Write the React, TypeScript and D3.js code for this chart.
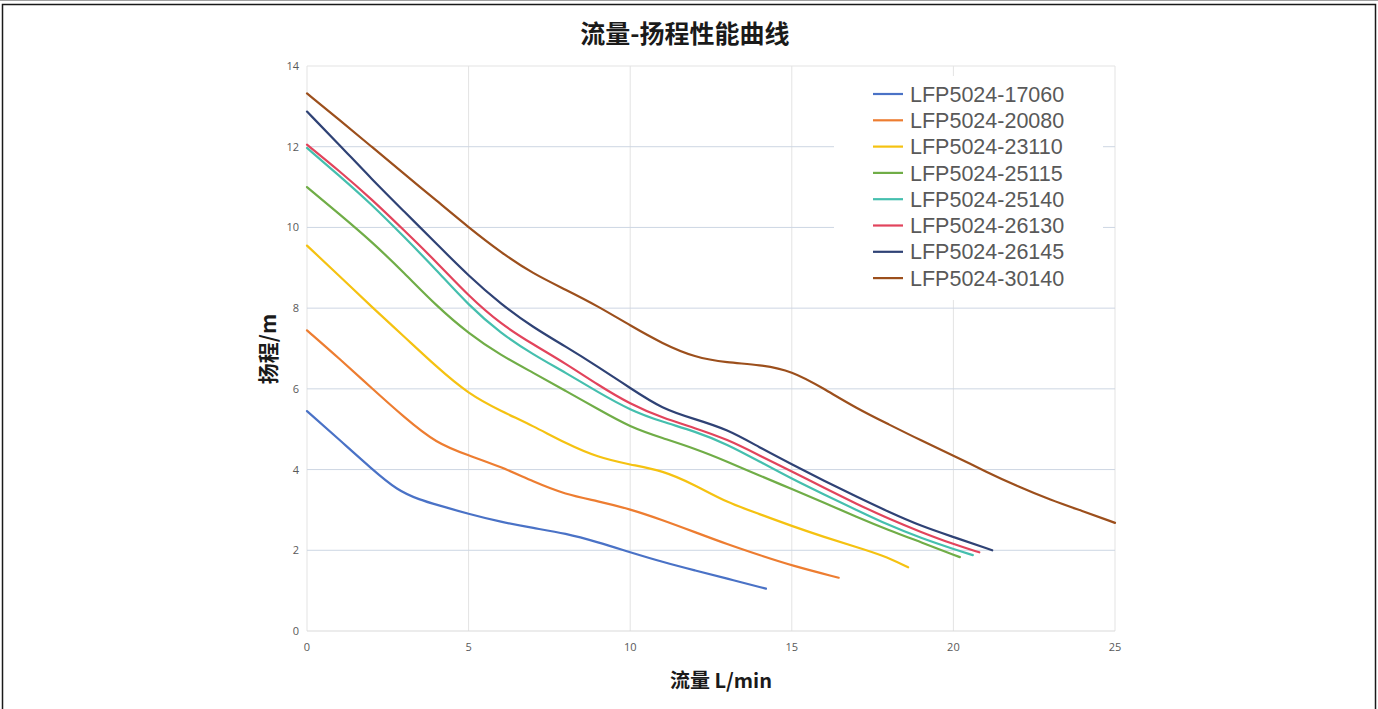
import React from "react";
import * as d3 from "d3";

const seriesNames = [
  "LFP5024-17060",
  "LFP5024-20080",
  "LFP5024-23110",
  "LFP5024-25115",
  "LFP5024-25140",
  "LFP5024-26130",
  "LFP5024-26145",
  "LFP5024-30140",
];

const seriesColors = ["#4a72c6", "#ed7d31", "#f5c211", "#70ad47", "#45bfae", "#e2445c", "#2f4275", "#9c4f1c"];

const s17060: [number, number][] = [
  [0, 5.45], [1, 4.74], [2, 4.02], [2.8, 3.48], [3.5, 3.25], [4, 3.13], [5, 2.9], [6, 2.7], [7, 2.55],
  [8, 2.42], [9, 2.2], [10, 1.95], [11, 1.71], [12, 1.5], [13, 1.3], [14.2, 1.05],
];
const s20080: [number, number][] = [
  [0, 7.45], [1, 6.75], [2, 6.02], [3, 5.3], [4, 4.65], [5, 4.35], [6, 4.07], [7, 3.7],
  [8, 3.38], [9, 3.22], [10, 3.02], [11, 2.75], [12, 2.45], [13, 2.15], [14, 1.88],
  [15, 1.62], [16.45, 1.32],
];
const s23110: [number, number][] = [
  [0, 9.55], [1, 8.8], [2, 8.03], [3, 7.3], [4, 6.55], [5, 5.87], [6, 5.45], [7, 5.08],
  [8, 4.65], [9, 4.3], [10, 4.12], [11, 3.98], [12, 3.62], [13, 3.18], [14, 2.9],
  [15, 2.6], [16, 2.33], [17, 2.08], [17.8, 1.88], [18.6, 1.58],
];
const s25115: [number, number][] = [
  [0, 11.0], [1, 10.33], [2, 9.65], [3, 8.88], [4, 8.06], [5, 7.37], [6, 6.83], [7, 6.4],
  [8, 5.95], [9, 5.5], [10, 5.05], [11, 4.78], [12, 4.52], [13, 4.2], [14, 3.85],
  [15, 3.52], [16, 3.18], [17, 2.83], [18, 2.5], [19, 2.2], [20.2, 1.83],
];
const s25140: [number, number][] = [
  [0, 11.97], [1, 11.28], [2, 10.57], [3, 9.77], [4, 8.95], [5, 8.07], [6, 7.37], [7, 6.85],
  [8, 6.4], [9, 5.92], [10, 5.47], [11, 5.18], [12, 4.95], [13, 4.63], [14, 4.2],
  [15, 3.77], [16, 3.38], [17, 3.0], [18, 2.62], [19, 2.3], [20, 2.03], [20.6, 1.88],
];
const s26130: [number, number][] = [
  [0, 12.05], [1, 11.4], [2, 10.7], [3, 9.93], [4, 9.15], [5, 8.3], [6, 7.6], [7, 7.1],
  [8, 6.63], [9, 6.1], [10, 5.62], [11, 5.28], [12, 5.03], [13, 4.75], [14, 4.35],
  [15, 3.95], [16, 3.55], [17, 3.15], [18, 2.78], [19, 2.45], [20, 2.15], [20.8, 1.95],
];
const s26145: [number, number][] = [
  [0, 12.87], [1, 12.05], [2, 11.2], [3, 10.4], [4, 9.6], [5, 8.8], [6, 8.1], [7, 7.52],
  [8, 7.05], [9, 6.55], [10, 6.02], [11, 5.5], [12, 5.25], [13, 5.0], [14, 4.55],
  [15, 4.13], [16, 3.72], [17, 3.33], [18, 2.95], [19, 2.6], [20, 2.33], [21.2, 2.0],
];
const s30140: [number, number][] = [
  [0, 13.32], [1, 12.67], [2, 12.0], [3, 11.33], [4, 10.67], [5, 10.0], [6, 9.38], [7, 8.85],
  [8, 8.46], [9, 8.05], [10, 7.57], [11, 7.12], [12, 6.78], [13, 6.65], [14, 6.6],
  [15, 6.45], [16, 6.0], [17, 5.52], [18, 5.12], [19, 4.72], [20, 4.35], [21, 3.95],
  [22, 3.58], [23, 3.25], [24, 2.97], [25, 2.68],
];

const seriesData = [s17060, s20080, s23110, s25115, s25140, s26130, s26145, s30140];

const xTicks = [0, 5, 10, 15, 20, 25];
const yTicks = [0, 2, 4, 6, 8, 10, 12, 14];

const titleText = "流量-扬程性能曲线";
const xLabel = "流量 L/min";
const yLabel = "扬程/m";

const W = 1378;
const H = 709;
const M = { left: 307, right: 1115, top: 66, bottom: 631 };

export default function App() {
  const x = d3.scaleLinear().domain([0, 25]).range([M.left, M.right]);
  const y = d3.scaleLinear().domain([0, 14]).range([M.bottom, M.top]);
  const line = d3
    .line<[number, number]>()
    .x((d) => x(d[0]))
    .y((d) => y(d[1]))
    .curve(d3.curveBasis);

  const legendX = 873;
  const legendY0 = 94;
  const legendDy = 26.3;

  return (
    <svg
      width={W}
      height={H}
      style={{ position: "fixed", left: 0, top: 0, background: "#fff" }}
      fontFamily="'Open Sans', 'Noto Sans', sans-serif"
    >
      <rect x={0} y={0} width={W} height={H} fill="#fff" />
      <line x1={0} x2={W} y1={0.5} y2={0.5} stroke="#a0a0a0" strokeWidth={1} />
      <rect x={2.5} y={4.5} width={W - 5} height={H + 20} fill="none" stroke="#1a1a1a" strokeWidth={1.5} />

      {/* gridlines */}
      {xTicks.map((t) => (
        <line key={"vx" + t} x1={x(t)} x2={x(t)} y1={M.top} y2={M.bottom} stroke="#e3e3e3" strokeWidth={1} />
      ))}
      {yTicks.map((t) => (
        <line
          key={"hy" + t}
          x1={M.left}
          x2={M.right}
          y1={y(t)}
          y2={y(t)}
          stroke={t === 0 ? "#d9d9d9" : t === 14 ? "#e3e3e3" : "#cdd6e3"}
          strokeWidth={1}
        />
      ))}

      {/* legend background */}
      <rect x={834} y={76} width={269} height={224} fill="#fff" />

      {/* tick labels */}
      {yTicks.map((t) => (
        <text key={"yl" + t} x={299} y={y(t) + 4} textAnchor="end" fontSize={11} fill="#595959">
          {t}
        </text>
      ))}
      {xTicks.map((t) => (
        <text key={"xl" + t} x={x(t)} y={651} textAnchor="middle" fontSize={11} fill="#595959">
          {t}
        </text>
      ))}

      {/* series */}
      {seriesData.map((d, i) => (
        <path key={"s" + i} d={line(d) || ""} fill="none" stroke={seriesColors[i]} strokeWidth={2.2} strokeLinecap="round" />
      ))}

      {/* legend */}
      {seriesNames.map((n, i) => (
        <g key={"lg" + i}>
          <line
            x1={legendX}
            x2={legendX + 30}
            y1={legendY0 + i * legendDy}
            y2={legendY0 + i * legendDy}
            stroke={seriesColors[i]}
            strokeWidth={2.2}
          />
          <text
            x={legendX + 37}
            y={legendY0 + i * legendDy + 7.6}
            fontSize={21.5}
            fill="#595959"
            fontFamily="'Liberation Sans', Arial, sans-serif"
          >
            {n}
          </text>
        </g>
      ))}

      {/* titles */}
      <text
        x={685}
        y={43}
        textAnchor="middle"
        fontSize={25}
        fontWeight="bold"
        fill="#1a1a1a"
        fontFamily="'Noto Sans CJK SC', sans-serif"
      >
        {titleText}
      </text>
      <text
        x={721}
        y={688}
        textAnchor="middle"
        fontSize={20}
        fontWeight="bold"
        fill="#1a1a1a"
        fontFamily="'Noto Sans CJK SC', sans-serif"
      >
        {xLabel}
      </text>
      <text
        transform={`translate(276, 349) rotate(-90)`}
        textAnchor="middle"
        fontSize={21}
        fontWeight="bold"
        fill="#1a1a1a"
        fontFamily="'Noto Sans CJK SC', sans-serif"
      >
        {yLabel}
      </text>
    </svg>
  );
}
